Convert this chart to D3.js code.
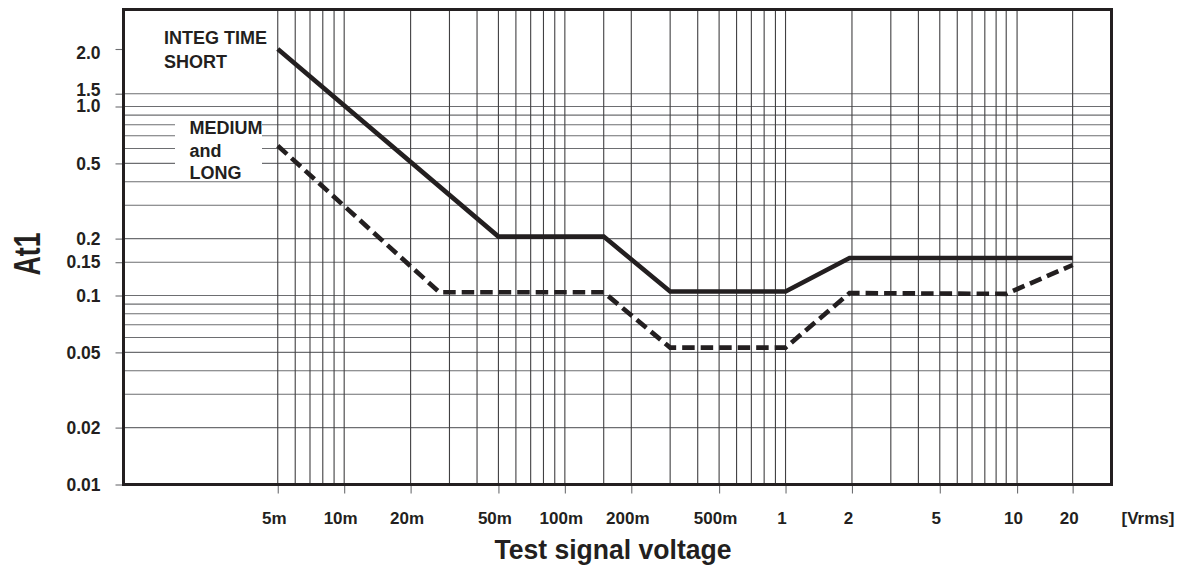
<!DOCTYPE html>
<html>
<head>
<meta charset="utf-8">
<script src="https://cdn.jsdelivr.net/npm/d3@7"></script>
<style>
  body { margin: 0; background: #fff; }
  svg { display: block; font-family: "Liberation Sans", Arial, sans-serif; font-weight: bold; }
</style>
</head>
<body>
<svg id="chart"></svg>
<script>
// INTEG TIME SHORT (solid)
const shortX = [0.005, 0.05, 0.15, 0.3, 1, 1.95, 20];
const shortY = [2.0, 0.205, 0.205, 0.105, 0.105, 0.158, 0.158];
// MEDIUM and LONG (dashed)
const mediumX = [0.005, 0.027, 0.15, 0.3, 1, 1.95, 10, 20];
const mediumY = [0.62, 0.104, 0.104, 0.053, 0.053, 0.103, 0.102, 0.145];

// grid + ticks
const xGrid = [0.005, 0.006, 0.007, 0.008, 0.009, 0.01, 0.02, 0.03, 0.04, 0.05, 0.06, 0.07, 0.08, 0.09,
               0.1, 0.15, 0.2, 0.3, 0.4, 0.5, 0.6, 0.7, 0.8, 0.9, 1, 2, 3, 4, 5, 6, 7, 8, 9, 10, 11.2, 20];
const xTickValues = [0.005, 0.01, 0.02, 0.05, 0.1, 0.2, 0.5, 1, 2, 5, 11.2, 20];
const xTickLabels = ["5m", "10m", "20m", "50m", "100m", "200m", "500m", "1", "2", "5", "10", "20"];
const yGrid = [0.02, 0.03, 0.04, 0.05, 0.06, 0.07, 0.08, 0.09, 0.1, 0.15, 0.2, 0.3, 0.4, 0.5,
               0.6, 0.7, 0.8, 0.9, 1.0, 1.5];
const yTickValues = [0.01, 0.02, 0.05, 0.1, 0.15, 0.2, 0.5, 1.0, 1.5, 2.0];
const yTickLabels = ["0.01", "0.02", "0.05", "0.1", "0.15", "0.2", "0.5", "1.0", "1.5", "2.0"];

const W = 1181, H = 566;
const margin = {top: 9.5, right: 69.5, bottom: 81.5, left: 123.5};
const width = W - margin.left - margin.right;
const height = H - margin.top - margin.bottom;
const ink = "#231f20";

const svg = d3.select("#chart").attr("width", W).attr("height", H);
const g = svg.append("g")
    .attr("transform", "translate(" + margin.left + "," + margin.top + ")");

const x = d3.scaleLog().domain([0.001, 30]).range([0, width]);
// the printed y grid is squeezed above 1.0
const y = d3.scaleLog().domain([0.01, 1, 1.5, 2]).range([height, 97, 84.2, 39.5]);

// grid
g.append("g").selectAll("line").data(yGrid).enter().append("line")
    .attr("x1", 0).attr("x2", width)
    .attr("y1", d => y(d)).attr("y2", d => y(d))
    .attr("stroke", "#6d6e71").attr("stroke-width", 1.1);

g.append("g").selectAll("line").data(xGrid).enter().append("line")
    .attr("x1", d => x(d)).attr("x2", d => x(d))
    .attr("y1", 0).attr("y2", height)
    .attr("stroke", "#414042").attr("stroke-width", 1.1);

// axes
const xAxis = d3.axisBottom(x)
    .tickValues(xTickValues)
    .tickFormat((d, i) => xTickLabels[i])
    .tickSize(9)
    .tickPadding(18);
const gx = g.append("g")
    .attr("transform", "translate(0," + height + ")")
    .call(xAxis);
gx.select(".domain").remove();
gx.selectAll(".tick line").attr("stroke", "#6d6e71").attr("stroke-width", 1.1);
gx.selectAll(".tick text")
    .attr("dx", -4)
    .style("font-size", "17px")
    .style("font-family", "'Liberation Sans', Arial, sans-serif")
    .style("font-weight", "bold")
    .attr("fill", ink);

const yAxis = d3.axisLeft(y)
    .tickValues(yTickValues)
    .tickFormat((d, i) => yTickLabels[i])
    .tickSize(8)
    .tickPadding(15);
const gy = g.append("g").call(yAxis);
gy.select(".domain").remove();
gy.selectAll(".tick line").attr("stroke", "#6d6e71").attr("stroke-width", 1.1);
gy.selectAll(".tick text")
    .style("font-size", "17.5px")
    .style("font-family", "'Liberation Sans', Arial, sans-serif")
    .style("font-weight", "bold")
    .attr("fill", ink);
// labels near the squeezed top sit a little off their ticks, as printed
gy.selectAll(".tick text")
    .filter(d => d === 1.5)
    .attr("y", -4);
gy.selectAll(".tick text")
    .filter(d => d === 1.0)
    .attr("y", -0.5);
gy.selectAll(".tick text")
    .filter(d => d === 2.0)
    .attr("y", 3.5);

// white patch behind MEDIUM and LONG
svg.append("rect")
    .attr("x", 175).attr("y", 121)
    .attr("width", 87).attr("height", 57.5)
    .attr("fill", "#fff");

// frame
g.append("rect")
    .attr("x", 0).attr("y", 0)
    .attr("width", width).attr("height", height)
    .attr("fill", "none")
    .attr("stroke", ink)
    .attr("stroke-width", 3);

// curves
const line = d3.line()
    .x(d => x(d[0]))
    .y(d => y(d[1]));

g.append("path")
    .datum(d3.zip(shortX, shortY))
    .attr("d", line)
    .attr("fill", "none")
    .attr("stroke", ink)
    .attr("stroke-width", 4.6);

g.append("path")
    .datum(d3.zip(mediumX, mediumY))
    .attr("d", line)
    .attr("fill", "none")
    .attr("stroke", ink)
    .attr("stroke-width", 4.6)
    .attr("stroke-dasharray", "12.5,6");

// annotations
const note = svg.append("g").attr("fill", ink).style("font-size", "18px");
note.append("text").attr("x", 164).attr("y", 44).text("INTEG TIME");
note.append("text").attr("x", 164).attr("y", 68).text("SHORT");
note.append("text").attr("x", 189.5).attr("y", 133.5).text("MEDIUM");
note.append("text").attr("x", 189.5).attr("y", 156.5).text("and");
note.append("text").attr("x", 189.5).attr("y", 178.5).text("LONG");

svg.append("text")
    .attr("x", 1148).attr("y", 523.5)
    .attr("text-anchor", "middle")
    .attr("fill", ink)
    .style("font-size", "17px")
    .text("[Vrms]");

// axis titles
svg.append("text")
    .attr("x", 613).attr("y", 558.5)
    .attr("text-anchor", "middle")
    .attr("fill", ink)
    .attr("textLength", 237)
    .attr("lengthAdjust", "spacingAndGlyphs")
    .style("font-family", "'Liberation Sans Narrow', 'Liberation Sans', sans-serif")
    .style("font-size", "28px")
    .text("Test signal voltage");

svg.append("text")
    .attr("transform", "translate(40,254) rotate(-90)")
    .attr("text-anchor", "middle")
    .attr("fill", ink)
    .attr("textLength", 43)
    .attr("lengthAdjust", "spacingAndGlyphs")
    .style("font-family", "'Liberation Sans Narrow', 'Liberation Sans', sans-serif")
    .style("font-size", "37px")
    .text("At1");
</script>
</body>
</html>
